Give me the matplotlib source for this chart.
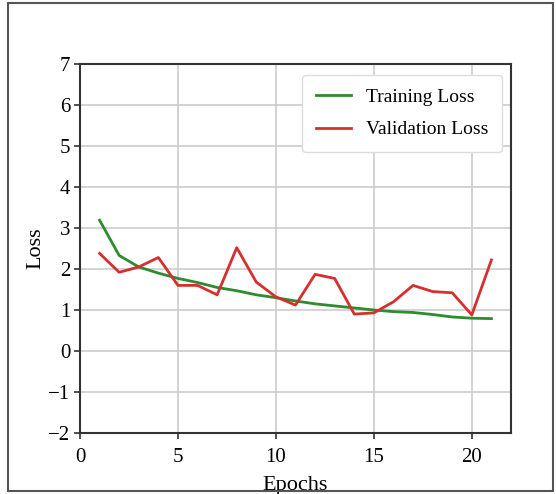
import numpy as np
import matplotlib.pyplot as plt
from matplotlib.patches import Rectangle

plt.rcParams['font.family'] = ['Liberation Serif', 'DejaVu Serif']

epochs = np.arange(1, 22)
train_loss = [3.19, 2.33, 2.05, 1.90, 1.77, 1.67, 1.55, 1.47, 1.37, 1.30, 1.22,
              1.15, 1.10, 1.05, 1.00, 0.96, 0.94, 0.89, 0.83, 0.80, 0.79]
val_loss = [2.38, 1.92, 2.05, 2.28, 1.60, 1.60, 1.37, 2.52, 1.68, 1.32, 1.12,
            1.87, 1.77, 0.90, 0.93, 1.20, 1.60, 1.45, 1.42, 0.88, 2.22]

fig = plt.figure(figsize=(5.56, 4.94), dpi=100)
ax = fig.add_axes([80 / 556, 1 - 433 / 494, 431 / 556, 369 / 494])

ax.plot(epochs, train_loss, color='#2e8b2e', linewidth=2, label='Training Loss')
ax.plot(epochs, val_loss, color='#d62f2f', linewidth=2, label='Validation Loss')

ax.set_xlim(0, 22)
ax.set_ylim(-2, 7)
ax.set_xticks([0, 5, 10, 15, 20])
ax.set_yticks(range(-2, 8))
ax.tick_params(labelsize=15, length=4, width=1.2, color='#333333')
ax.tick_params(axis='x', pad=7)
ax.tick_params(axis='y', pad=3)
ax.grid(True, color='#cccccc', linewidth=1.2)
for s in ax.spines.values():
    s.set_color('#333333')
    s.set_linewidth(1.5)

ax.set_xlabel('Epochs', fontsize=16, labelpad=6)
ax.set_ylabel('Loss', fontsize=16, labelpad=2)
ax.legend(loc='upper right', fontsize=14, framealpha=1, edgecolor='#dddddd',
          handlelength=1.8, labelspacing=0.75, borderpad=0.7,
          borderaxespad=0, bbox_to_anchor=(0.98, 0.97))

fig.patches.append(Rectangle((8 / 556, 3 / 494), 545 / 556, 488 / 494,
                             transform=fig.transFigure, fill=False,
                             edgecolor='#555555', linewidth=1.5))

fig.savefig('out.png', dpi=100)
